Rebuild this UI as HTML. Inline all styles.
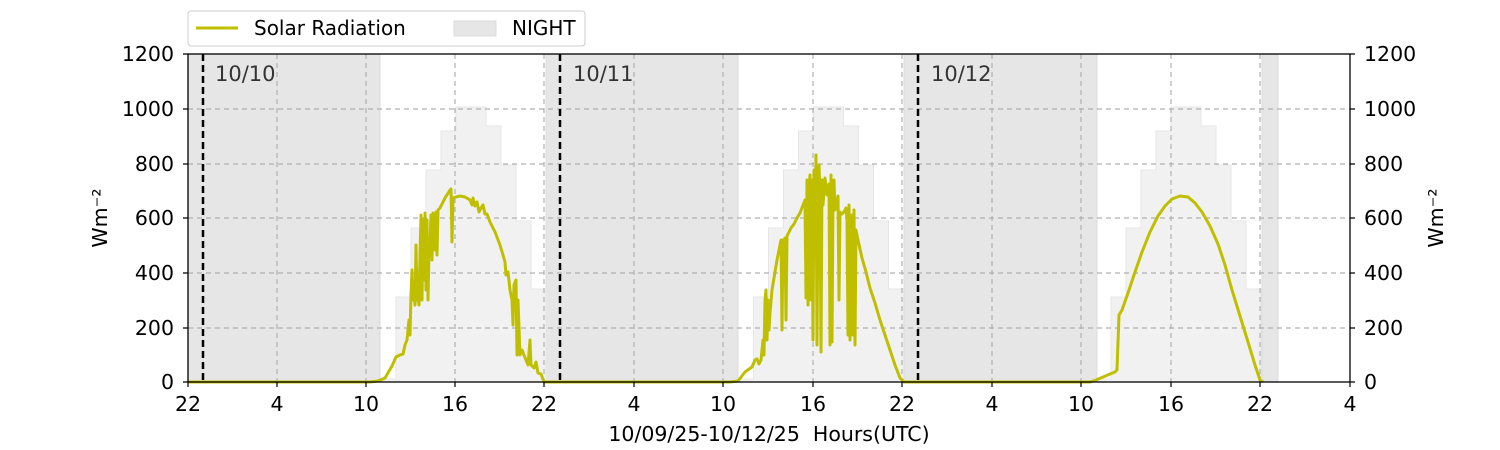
<!DOCTYPE html>
<html><head><meta charset="utf-8"><style>body{margin:0;background:#fff}svg{display:block;font-family:"DejaVu Sans","Liberation Sans",sans-serif}</style></head><body>
<svg width="1500" height="450" viewBox="0 0 1500 450" xmlns="http://www.w3.org/2000/svg">
<defs>
<g id="bars">
<path d="M381,382 V379 H396 V297 H411 V228 H426 V170 H441 V131 H456 V107 H486 V126 H501 V165 H516 V221 H531 V289 H546 V382 Z" fill="#f1f1f1" stroke="#e6e6e6" stroke-width="1"/>
</g>
</defs>
<g fill="#e6e6e6" stroke="#dcdcdc">
<rect x="188" y="54" width="192" height="328"/>
<rect x="546" y="54" width="192" height="328"/>
<rect x="904" y="54" width="193" height="328"/>
<rect x="1262" y="54" width="16" height="328"/>
</g>
<use href="#bars"/>
<use href="#bars" transform="translate(357.5,0)"/>
<use href="#bars" transform="translate(715,0)"/>
<g stroke="#b0b0b0" stroke-width="1.2" stroke-dasharray="5,4">
<line x1="188" x2="1350" y1="109" y2="109"/><line x1="188" x2="1350" y1="164" y2="164"/>
<line x1="188" x2="1350" y1="218" y2="218"/><line x1="188" x2="1350" y1="273" y2="273"/>
<line x1="188" x2="1350" y1="328" y2="328"/>
<line x1="277" x2="277" y1="54" y2="382"/><line x1="366" x2="366" y1="54" y2="382"/>
<line x1="455" x2="455" y1="54" y2="382"/><line x1="544" x2="544" y1="54" y2="382"/>
<line x1="634" x2="634" y1="54" y2="382"/><line x1="723" x2="723" y1="54" y2="382"/>
<line x1="813" x2="813" y1="54" y2="382"/><line x1="902" x2="902" y1="54" y2="382"/>
<line x1="992" x2="992" y1="54" y2="382"/><line x1="1081" x2="1081" y1="54" y2="382"/>
<line x1="1171" x2="1171" y1="54" y2="382"/><line x1="1260" x2="1260" y1="54" y2="382"/>
</g>
<g stroke="#000" stroke-width="2.5" stroke-dasharray="7,4">
<line x1="203" x2="203" y1="54" y2="382"/><line x1="560" x2="560" y1="54" y2="382"/><line x1="918" x2="918" y1="54" y2="382"/>
</g>
<g font-size="21" fill="#333"><text x="215" y="81">10/10</text><text x="573" y="81">10/11</text><text x="931" y="81">10/12</text></g>
<g fill="none" stroke="#bfbf00" stroke-width="3" stroke-linejoin="round">
<polyline points="188,382 370,382 378,381 385,378 392,366 396,357 400,355 403,354 405,345 407,340 408,330 409,320 410,335 411,295 412,270 413,300 414,285 415,305 416,245 417,300 418,298 419,305 420,255 421,215 422,300 423,220 424,280 425,213 426,290 427,220 428,300 429,250 430,245 431,215 432,260 433,213 434,220 435,250 436,212 437,255 438,210 440,208 445,198 450,190 451,189 452,242 453,198 456,197 460,196 465,197 470,200 472,205 473,198 475,206 477,202 479,212 481,208 483,205 485,214 487,214 490,222 495,232 500,245 503,255 505,262 506,275 508,272 510,290 512,300 513,325 514,285 516,280 517,355 518,300 520,355 522,350 526,360 528,365 530,340 531,365 534,368 536,362 538,373 541,374 544,382 560,382 730,382 738,381 745,372 752,367 755,360 757,359 759,364 761,360 763,340 764,355 765,300 766,290 767,340 768,300 769,330 770,313 772,290 775,272 777,260 779,250 781,240 782,330 783,240 784,275 785,238 786,320 787,236 789,232 791,228 794,224 797,218 800,213 803,205 805,200 806,298 807,180 808,305 809,190 810,175 811,300 812,180 813,340 814,170 815,255 816,155 817,345 818,205 819,165 820,195 821,352 822,180 823,205 825,178 827,195 829,184 830,345 831,175 832,342 833,200 834,180 835,210 836,207 838,196 839,300 840,212 842,214 844,212 846,208 847,220 848,335 849,205 850,340 851,230 852,215 853,335 854,210 855,345 856,230 858,240 862,258 866,272 870,288 875,303 880,320 885,335 890,350 895,365 900,378 904,382 1090,382 1096,380 1103,377 1110,374 1115,372 1117,370 1119,315 1122,310 1128,293 1135,272 1142,252 1150,232 1158,216 1165,206 1172,199 1180,196 1188,197 1195,203 1202,212 1210,226 1218,244 1225,265 1232,290 1240,316 1248,342 1255,365 1260,380 1263,382"/>
</g>
<rect x="188" y="54" width="1162" height="328" fill="none" stroke="#000" stroke-width="1.3"/>
<g stroke="#000" stroke-width="1.2">
<path d="M188,382v5M277,382v5M366,382v5M455,382v5M544,382v5M634,382v5M723,382v5M813,382v5M902,382v5M992,382v5M1081,382v5M1171,382v5M1260,382v5M1350,382v5"/>
<path d="M188,54h-5M188,109h-5M188,164h-5M188,218h-5M188,273h-5M188,328h-5M188,382h-5"/>
<path d="M1350,54h5M1350,109h5M1350,164h5M1350,218h5M1350,273h5M1350,328h5M1350,382h5"/>
</g>
<g font-size="20.5" fill="#000">
<g text-anchor="end"><text x="174" y="61">1200</text><text x="174" y="116">1000</text><text x="174" y="171">800</text><text x="174" y="225">600</text><text x="174" y="280">400</text><text x="174" y="335">200</text><text x="174" y="389">0</text></g>
<g><text x="1364" y="61">1200</text><text x="1364" y="116">1000</text><text x="1364" y="171">800</text><text x="1364" y="225">600</text><text x="1364" y="280">400</text><text x="1364" y="335">200</text><text x="1364" y="389">0</text></g>
<g text-anchor="middle"><text x="188" y="411">22</text><text x="277" y="411">4</text><text x="366" y="411">10</text><text x="455" y="411">16</text><text x="544" y="411">22</text><text x="634" y="411">4</text><text x="723" y="411">10</text><text x="813" y="411">16</text><text x="902" y="411">22</text><text x="992" y="411">4</text><text x="1081" y="411">10</text><text x="1171" y="411">16</text><text x="1260" y="411">22</text><text x="1350" y="411">4</text>
<text x="769" y="441">10/09/25-10/12/25&#160; Hours(UTC)</text>
<text transform="translate(107,218) rotate(-90)">Wm⁻²</text>
<text transform="translate(1443,218) rotate(-90)">Wm⁻²</text></g>
</g>
<rect x="188" y="11" width="397" height="35" rx="3" fill="#fff" stroke="#ccc"/>
<line x1="196" x2="238" y1="28" y2="28" stroke="#bfbf00" stroke-width="3"/>
<text x="254" y="35" font-size="20">Solar Radiation</text>
<rect x="454" y="21" width="42" height="15" fill="#e6e6e6" stroke="#dcdcdc"/>
<text x="512" y="35" font-size="20">NIGHT</text>
</svg>
</body></html>
